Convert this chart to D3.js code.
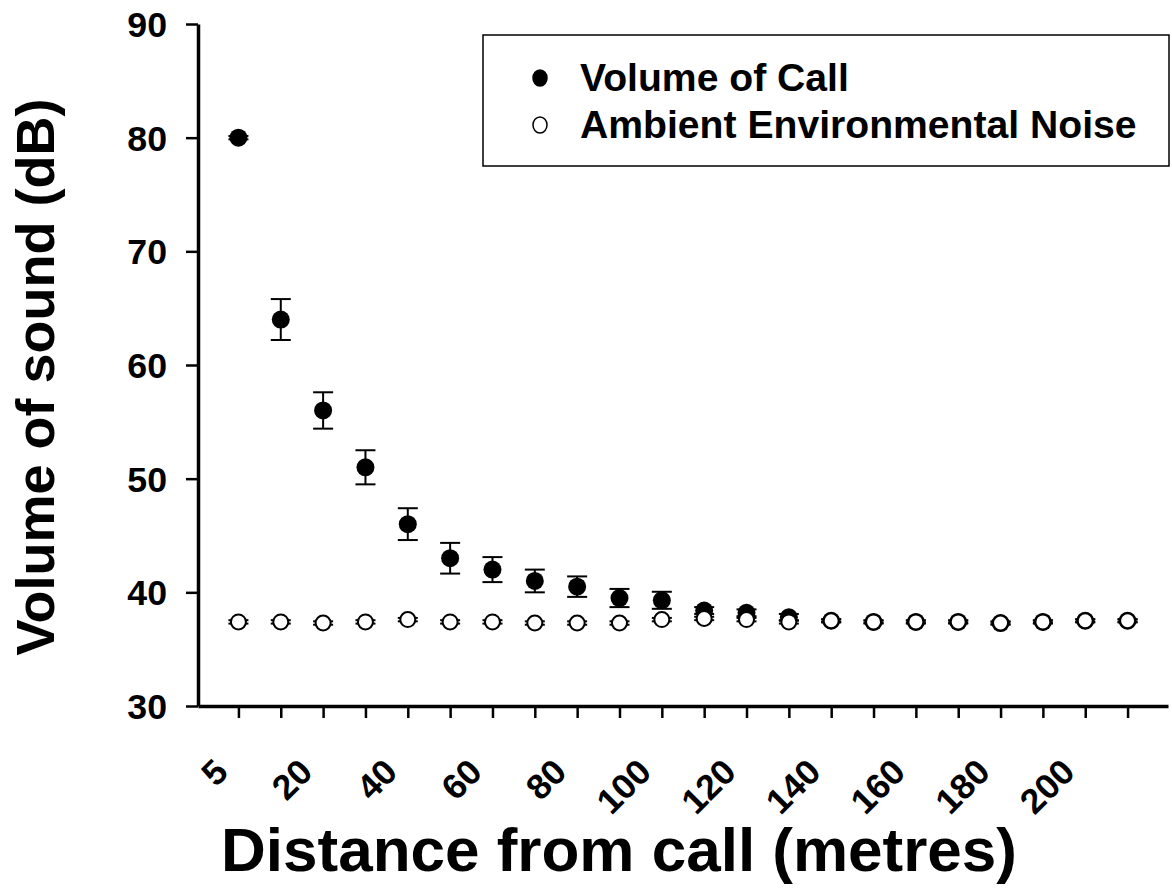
<!DOCTYPE html>
<html>
<head>
<meta charset="utf-8">
<script src="https://cdn.jsdelivr.net/npm/d3@7"></script>
<style>
  body { margin: 0; background: #fff; }
  svg { display: block; }
  text { font-family: Arial, "Liberation Sans", sans-serif; font-weight: bold; fill: #000; }
</style>
</head>
<body>
<svg id="chart" width="1172" height="892"></svg>
<script>
// distances (metres) along the transect
var distances = [5, 10, 20, 30, 40, 50, 60, 70, 80, 90, 100, 110, 120, 130, 140, 150, 160, 170, 180, 190, 200, 210];
var labelled = [5, 20, 40, 60, 80, 100, 120, 140, 160, 180, 200];

// volume of call (dB) and error
var callMean = [80, 64, 56, 51, 46, 43, 42, 41, 40.5, 39.5, 39.3, 38.4, 38.2, 37.8, 37.5, 37.4, 37.4, 37.4, 37.3, 37.4, 37.5, 37.5];
var callErr  = [0.15, 1.8, 1.6, 1.5, 1.4, 1.35, 1.1, 1.0, 0.9, 0.8, 0.75, 0.3, 0.3, 0.3, 0.1, 0.1, 0.1, 0.1, 0.1, 0.1, 0.1, 0.1];

// ambient environmental noise (dB) and error
var noiseMean = [37.4, 37.4, 37.3, 37.4, 37.6, 37.4, 37.4, 37.3, 37.3, 37.3, 37.6, 37.7, 37.6, 37.4, 37.5, 37.4, 37.4, 37.4, 37.3, 37.4, 37.5, 37.5];
var noiseErr  = [0.15, 0.15, 0.15, 0.15, 0.15, 0.15, 0.15, 0.15, 0.15, 0.15, 0.15, 0.15, 0.15, 0.15, 0.15, 0.15, 0.15, 0.15, 0.15, 0.15, 0.15, 0.15];

var yTicks = [30, 40, 50, 60, 70, 80, 90];

var svg = d3.select("#chart");
var stretch = 1.02;

var x = d3.scalePoint()
  .domain(distances)
  .range([198, 1168])
  .padding(0.955);

var y = d3.scaleLinear()
  .domain([30, 90])
  .range([706, 24]);

// ---- axes ----
var xAxis = svg.append("g")
  .attr("transform", "translate(0," + y(30) + ")")
  .call(d3.axisBottom(x)
    .tickSize(12)
    .tickSizeOuter(0)
    .tickFormat(function(d) { return labelled.indexOf(d) >= 0 ? d : ""; }));

xAxis.select(".domain").attr("stroke-width", 3.5).attr("stroke", "#000");
xAxis.selectAll(".tick line").attr("stroke-width", 2.5).attr("stroke", "#000");
xAxis.selectAll(".tick text")
  .attr("x", 0).attr("y", 0).attr("dy", 0)
  .attr("text-anchor", "end")
  .attr("font-size", 35)
  .attr("font-family", null)
  .attr("transform", "translate(-9,68) rotate(-45) scale(" + stretch + ",1)");

var yAxis = svg.append("g")
  .attr("transform", "translate(" + 198 + ",0)")
  .call(d3.axisLeft(y)
    .tickValues(yTicks)
    .tickSize(12)
    .tickSizeOuter(0));

yAxis.select(".domain").attr("stroke-width", 3.5).attr("stroke", "#000");
yAxis.selectAll(".tick line").attr("stroke-width", 2.5).attr("stroke", "#000");
yAxis.selectAll(".tick text")
  .attr("x", 0).attr("dy", "0.36em")
  .attr("text-anchor", "end")
  .attr("font-size", 35)
  .attr("font-family", null)
  .attr("transform", "translate(-31,0) scale(" + stretch + ",1)");

// axis titles
svg.append("text")
  .attr("text-anchor", "middle")
  .attr("font-size", 62)
  .attr("transform", "translate(619,871)")
  .text("Distance from call (metres)");

svg.append("text")
  .attr("text-anchor", "middle")
  .attr("font-size", 54)
  .attr("transform", "translate(54,377) rotate(-90)")
  .text("Volume of sound (dB)");

// ---- error bars + markers ----
function errorBars(means, errs) {
  var g = svg.append("g").attr("stroke", "#000").attr("stroke-width", 2);
  var rows = distances.map(function(d, i) { return {d: d, m: means[i], e: errs[i]}; });
  g.selectAll("line.v").data(rows).enter().append("line")
    .attr("class", "v")
    .attr("x1", function(r) { return x(r.d); })
    .attr("x2", function(r) { return x(r.d); })
    .attr("y1", function(r) { return y(r.m + r.e); })
    .attr("y2", function(r) { return y(r.m - r.e); });
  [1, -1].forEach(function(s) {
    g.selectAll("line.cap" + s).data(rows).enter().append("line")
      .attr("x1", function(r) { return x(r.d) - 10; })
      .attr("x2", function(r) { return x(r.d) + 10; })
      .attr("y1", function(r) { return y(r.m + s * r.e); })
      .attr("y2", function(r) { return y(r.m + s * r.e); });
  });
  return rows;
}

var callRows = errorBars(callMean, callErr);
svg.append("g").selectAll("circle").data(callRows).enter().append("circle")
  .attr("cx", function(r) { return x(r.d); })
  .attr("cy", function(r) { return y(r.m); })
  .attr("r", 9)
  .attr("fill", "#000");

var noiseRows = errorBars(noiseMean, noiseErr);
svg.append("g").selectAll("circle").data(noiseRows).enter().append("circle")
  .attr("cx", function(r) { return x(r.d); })
  .attr("cy", function(r) { return y(r.m); })
  .attr("r", 7.5)
  .attr("fill", "#fff")
  .attr("stroke", "#000")
  .attr("stroke-width", 2);

// ---- legend ----
var legend = svg.append("g").attr("transform", "translate(483,35)");
legend.append("rect")
  .attr("width", 686).attr("height", 131)
  .attr("fill", "#fff").attr("stroke", "#000").attr("stroke-width", 1.5);

var legendItems = [
  {label: "Volume of Call", fill: "#000"},
  {label: "Ambient Environmental Noise", fill: "#fff"}
];
var li = legend.selectAll("g.item").data(legendItems).enter().append("g")
  .attr("transform", function(d, i) { return "translate(0," + (43 + i * 47) + ")"; });
li.append("ellipse")
  .attr("cx", 57).attr("rx", 7).attr("ry", 8)
  .attr("fill", function(d) { return d.fill; })
  .attr("stroke", "#000").attr("stroke-width", 1.5);
li.append("text")
  .attr("font-size", 38)
  .attr("dy", "0.35em")
  .attr("transform", "translate(97,0) scale(1.03,1)")
  .text(function(d) { return d.label; });
</script>
</body>
</html>
